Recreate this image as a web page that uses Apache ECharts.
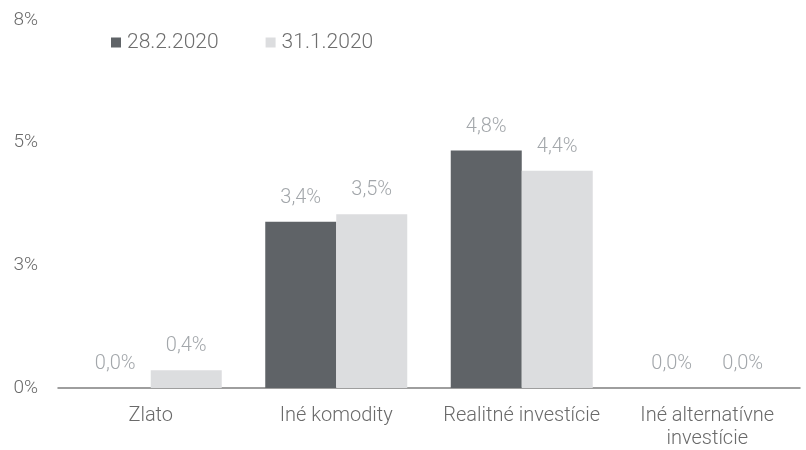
<!DOCTYPE html>
<html>
<head>
<meta charset="utf-8">
<script src="https://cdn.jsdelivr.net/npm/echarts@6/dist/echarts.min.js"></script>
<style>
  html, body { margin: 0; padding: 0; background: #fff; }
  #chart { width: 806px; height: 450px; }
</style>
</head>
<body>
<div id="chart"></div>
<script>
const categories = ['Zlato', 'Iné komodity', 'Realitné investície', 'Iné alternatívne\ninvestície'];
const seriesNames = ['28.2.2020', '31.1.2020'];
const feb2020 = [0.0, 3.39, 4.84, 0.0];
const jan2020 = [0.36, 3.54, 4.43, 0.0];
const yTicks = [0, 2.5, 5, 7.5];

const font = 'Roboto';
const chart = echarts.init(document.getElementById('chart'));

// value label like "3,4%"
const pctLabel = (p) => p.value.toFixed(1).replace('.', ',') + '%';

const labelStyle = {
  show: true,
  position: 'top',
  distance: 14,
  color: '#a3a7ab',
  fontFamily: font,
  fontWeight: 300,
  fontSize: 20,
  formatter: pctLabel
};

const option = {
  animation: false,
  textStyle: { fontFamily: font },
  legend: {
    top: 32,
    left: 111,
    padding: 0,
    itemWidth: 10,
    itemHeight: 10,
    itemGap: 47,
    icon: 'rect',
    textStyle: { color: '#6e6e6e', fontSize: 21, fontWeight: 300, fontFamily: font, padding: [0, 0, 0, 1] },
    data: seriesNames
  },
  grid: { left: 58, right: 6, top: 20, bottom: 62 },
  xAxis: {
    type: 'category',
    data: categories,
    axisTick: { show: false },
    axisLine: { lineStyle: { color: '#7f7f7f', width: 1.5 } },
    axisLabel: {
      color: '#6a6a6a',
      fontSize: 20,
      fontWeight: 300,
      fontFamily: font,
      margin: 16,
      lineHeight: 23,
      interval: 0
    }
  },
  yAxis: {
    type: 'value',
    min: yTicks[0],
    max: yTicks[yTicks.length - 1],
    interval: yTicks[1] - yTicks[0],
    splitLine: { show: false },
    axisLine: { show: false },
    axisTick: { show: false },
    axisLabel: {
      color: '#6a6a6a',
      fontSize: 19,
      fontWeight: 300,
      fontFamily: font,
      margin: 20,
      formatter: (v) => Math.round(v) + '%'
    }
  },
  series: [
    {
      name: seriesNames[0],
      type: 'bar',
      data: feb2020,
      barWidth: 71,
      barGap: '0%',
      itemStyle: { color: '#5f6367' },
      label: labelStyle
    },
    {
      name: seriesNames[1],
      type: 'bar',
      data: jan2020,
      barWidth: 71,
      barGap: '0%',
      itemStyle: { color: '#dcdddf' },
      label: labelStyle
    }
  ]
};

chart.setOption(option);
</script>
</body>
</html>
